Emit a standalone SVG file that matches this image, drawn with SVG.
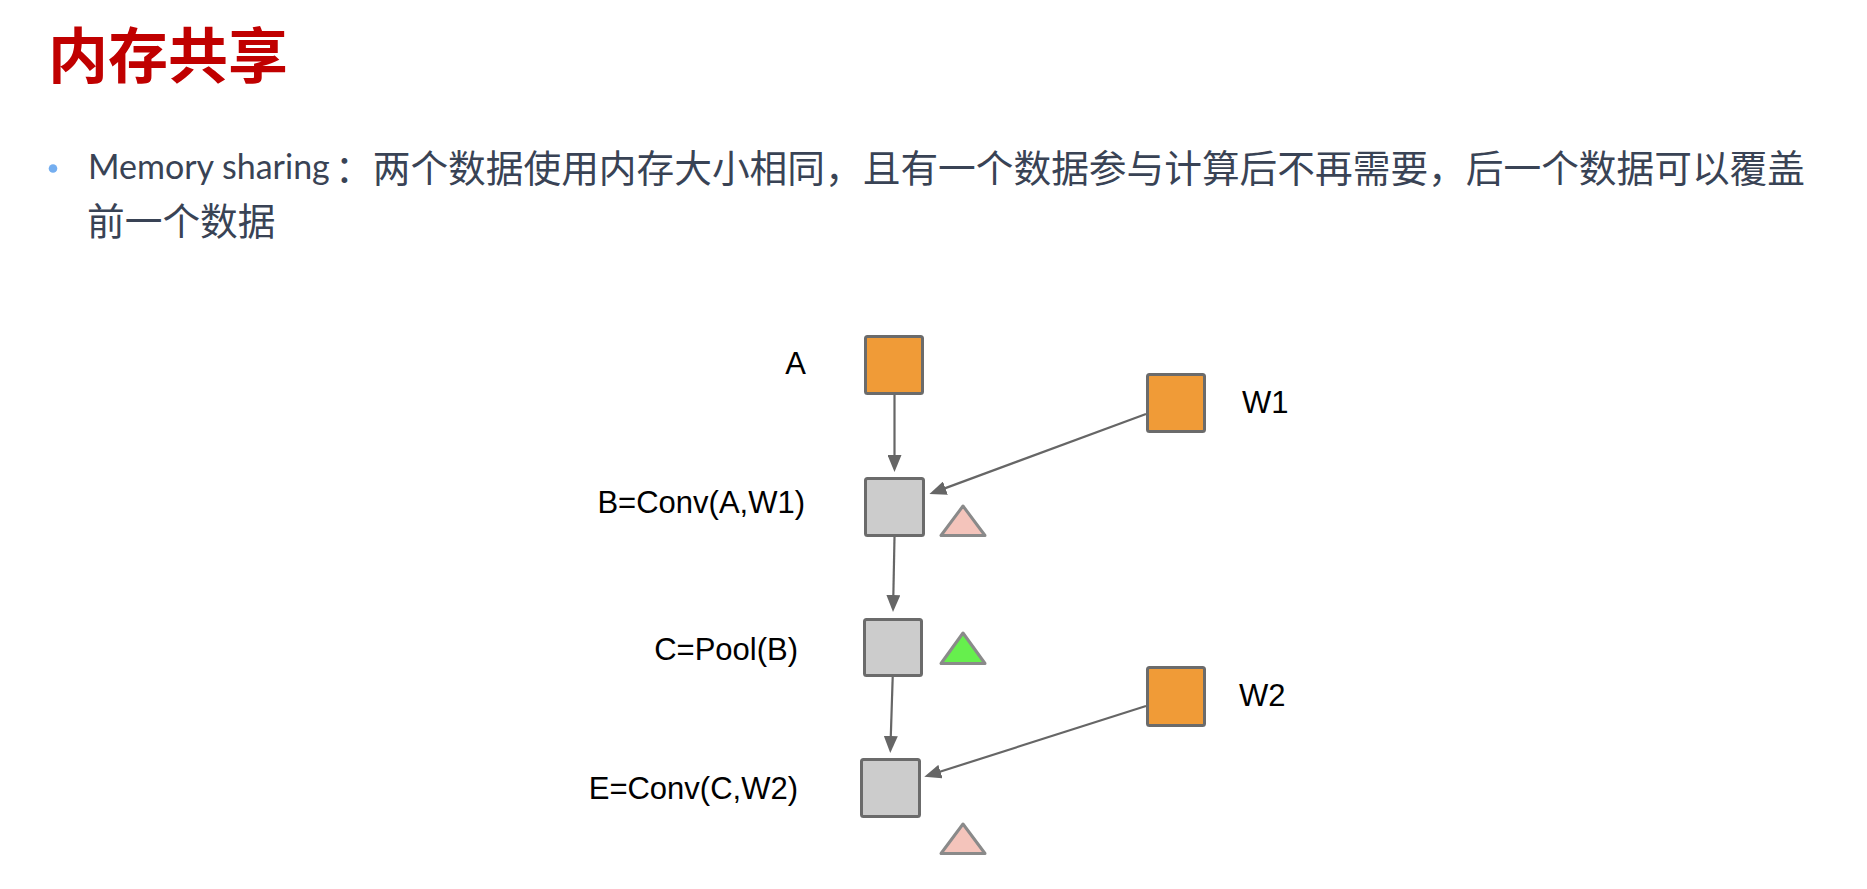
<svg xmlns="http://www.w3.org/2000/svg" width="1867" height="889" viewBox="0 0 1867 889">
<defs>
<style>
.title{font-family:"Noto Sans CJK SC","Noto Sans",sans-serif;font-weight:700;font-size:60px;fill:#c00000}
.lat{font-family:Lato,"Open Sans",sans-serif;font-size:34px;fill:#394355}
.cjk{font-family:"Noto Sans CJK SC",sans-serif;font-size:37.7px;fill:#394355}
.lbl{font-family:"Liberation Sans",Arial,sans-serif;font-size:31px;fill:#000}
.box{stroke:#6b6b6b;stroke-width:3}
.in{fill:#f09b37}
.op{fill:#cccccc}
.tri{stroke:#8a8a8a;stroke-width:3;stroke-linejoin:round}
.edge{stroke:#666666;stroke-width:2.2;fill:none;marker-end:url(#ah)}
</style>
<marker id="ah" markerUnits="userSpaceOnUse" markerWidth="17" markerHeight="14" viewBox="0 0 17 14" refX="13" refY="7" orient="auto">
<path d="M0,0 L17,7 L0,14 Z" fill="#666666"/>
</marker>
</defs>
<rect width="1867" height="889" fill="#ffffff"/>
<g id="header">
<text class="title" x="48" y="78">内存共享</text>
<circle cx="53" cy="168.5" r="4.3" fill="#74aef0"/>
<text class="lat" x="88" y="179">Memory sharing</text>
<text class="cjk" x="335" y="182" textLength="1470" lengthAdjust="spacing">：两个数据使用内存大小相同，且有一个数据参与计算后不再需要，后一个数据可以覆盖</text>
<text class="cjk" x="87" y="235">前一个数据</text>
</g>
<g id="connectors">
<line class="edge" x1="894.5" y1="395" x2="894.5" y2="468"/>
<line class="edge" x1="1146" y1="414" x2="933.2" y2="492.6"/>
<line class="edge" x1="894.5" y1="537" x2="893.1" y2="608"/>
<line class="edge" x1="892.7" y1="677" x2="890.4" y2="749"/>
<line class="edge" x1="1146" y1="706" x2="928.1" y2="775.5"/>
</g>
<g id="node-A">
<rect class="box in" x="865.5" y="336.5" width="57" height="57" rx="2"/>
<text class="lbl" x="806" y="374" text-anchor="end">A</text>
</g>
<g id="node-W1">
<rect class="box in" x="1147.5" y="374.5" width="57" height="57" rx="2"/>
<text class="lbl" x="1242" y="413">W1</text>
</g>
<g id="node-B">
<rect class="box op" x="865.5" y="478.5" width="58" height="57" rx="2"/>
<text class="lbl" x="805" y="513" text-anchor="end">B=Conv(A,W1)</text>
<polygon class="tri" points="963,506 941,535.5 985,535.5" fill="#f4c4bb"/>
</g>
<g id="node-C">
<rect class="box op" x="864.5" y="619.5" width="57" height="56" rx="2"/>
<text class="lbl" x="798" y="660" text-anchor="end">C=Pool(B)</text>
<polygon class="tri" points="963,633 941,663.5 985,663.5" fill="#66ef4d"/>
</g>
<g id="node-W2">
<rect class="box in" x="1147.5" y="667.5" width="57" height="58" rx="2"/>
<text class="lbl" x="1239" y="706">W2</text>
</g>
<g id="node-E">
<rect class="box op" x="861.5" y="759.5" width="58" height="57" rx="2"/>
<text class="lbl" x="798" y="799" text-anchor="end">E=Conv(C,W2)</text>
<polygon class="tri" points="963,824 941,853.5 985,853.5" fill="#f4c4bb"/>
</g>
</svg>
